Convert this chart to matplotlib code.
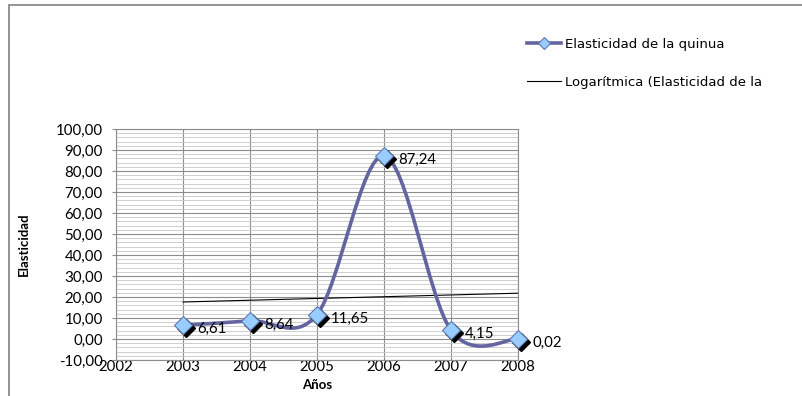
import numpy as np
import matplotlib
matplotlib.use("Agg")
import matplotlib.pyplot as plt
from matplotlib.path import Path
from matplotlib.patches import PathPatch, Rectangle
from matplotlib.lines import Line2D
import matplotlib.transforms as mtransforms

# ---------------------------------------------------------------------------
# Data
# ---------------------------------------------------------------------------
years = [2003, 2004, 2005, 2006, 2007, 2008]
elasticity = [6.61, 8.64, 11.65, 87.24, 4.15, 0.02]
point_labels = ["6,61", "8,64", "11,65", "87,24", "4,15", "0,02"]
series_name = "Elasticidad de la quinua"
trend_name = "Logarítmica (Elasticidad de la"

LINE_COLOR = "#6464A0"
MARKER_FACE = "#99CCFF"
MARKER_EDGE = "#5A78B4"
GRID_MAJOR = "#8C8C8C"
GRID_MINOR = "#C8C8C8"

plt.rcParams["font.family"] = ["Lato", "DejaVu Sans"]


def smooth_path(xs, ys):
    """Excel-style smoothed line: cubic Bezier segments (Catmull-Rom control points)."""
    pts = np.column_stack([xs, ys]).astype(float)
    ext = np.vstack([pts[0], pts, pts[-1]])
    verts = [tuple(pts[0])]
    codes = [Path.MOVETO]
    for i in range(1, len(ext) - 2):
        p0, p1, p2, p3 = ext[i - 1], ext[i], ext[i + 1], ext[i + 2]
        c1 = p1 + (p2 - p0) / 6.0
        c2 = p2 - (p3 - p1) / 6.0
        verts += [tuple(c1), tuple(c2), tuple(p2)]
        codes += [Path.CURVE4] * 3
    return Path(verts, codes)


fig = plt.figure(figsize=(8.02, 3.96), dpi=100)
ax = fig.add_axes([116 / 802, 1 - 360 / 396, 402 / 802, 231 / 396])

# outer chart frame (runs off the right and bottom edges)
fig.add_artist(Rectangle((9 / 802, -0.2), 1.2, 1.2 - 4.5 / 396,
                         transform=fig.transFigure, fill=False,
                         edgecolor="#808080", lw=1.2))

ax.set_xlim(2002, 2008)
ax.set_ylim(-10, 100)
ax.set_xticks(range(2002, 2009))
ax.set_yticks(np.arange(-10, 101, 10))
ax.set_yticks(np.arange(-10, 101, 2), minor=True)
ax.set_yticklabels([f"{v:.2f}".replace(".", ",") for v in np.arange(-10, 101, 10)])

ax.grid(which="minor", axis="y", color=GRID_MINOR, lw=0.6)
ax.grid(which="major", color=GRID_MAJOR, lw=0.8)
ax.set_axisbelow(True)
for s in ax.spines.values():
    s.set_color(GRID_MAJOR)
    s.set_linewidth(0.8)

ax.tick_params(axis="y", which="major", length=3, color=GRID_MAJOR, pad=6.5, labelsize=10.8)
ax.tick_params(axis="y", which="minor", length=0)
ax.tick_params(axis="x", length=0, pad=0.3, labelsize=10.8)

ax.set_ylabel("Elasticidad", fontsize=9.5, fontweight="bold")
ax.yaxis.set_label_coords(-0.214, 0.5)
ax.set_xlabel("Años", fontsize=9.5, fontweight="bold")
ax.xaxis.set_label_coords(0.5, -0.082)

# logarithmic trendline (as Excel computes it, on the year values)
b, a = np.polyfit(np.log(years), elasticity, 1)
tx = np.linspace(years[0], years[-1], 200)
ax.plot(tx, a + b * np.log(tx), color="black", lw=0.8, zorder=2)

# smoothed series line
ax.add_patch(PathPatch(smooth_path(years, elasticity), fill=False,
                       edgecolor=LINE_COLOR, lw=2.6, zorder=3,
                       capstyle="round", joinstyle="round"))

# marker shadow + markers
shadow = mtransforms.offset_copy(ax.transData, fig=fig, x=3, y=-3, units="dots")
ax.plot(years, elasticity, ls="none", marker="D", ms=9, mfc="black", mec="black",
        transform=shadow, zorder=4, clip_on=False)
ax.plot(years, elasticity, ls="none", marker="D", ms=9, mfc=MARKER_FACE,
        mec=MARKER_EDGE, mew=0.8, zorder=5, clip_on=False)

for x, y, lbl in zip(years, elasticity, point_labels):
    ax.annotate(lbl, (x, y), xytext=(14, -4), textcoords="offset pixels",
                ha="left", va="center", fontsize=10.8, zorder=6,
                annotation_clip=False)

handles = [
    Line2D([], [], color=LINE_COLOR, lw=2.6, marker="D", ms=6,
           mfc=MARKER_FACE, mec=MARKER_EDGE, mew=0.8),
    Line2D([], [], color="black", lw=0.8),
]
fig.legend(handles, [series_name, trend_name], loc="upper left",
           bbox_to_anchor=(527 / 802, 1 - 38 / 396), frameon=False,
           prop={"family": "DejaVu Sans", "size": 9.5},
           handlelength=2.6, handletextpad=0.3,
           labelspacing=1.9, borderpad=0, borderaxespad=0)

fig.savefig("out.png", dpi=100)
plt.close(fig)
